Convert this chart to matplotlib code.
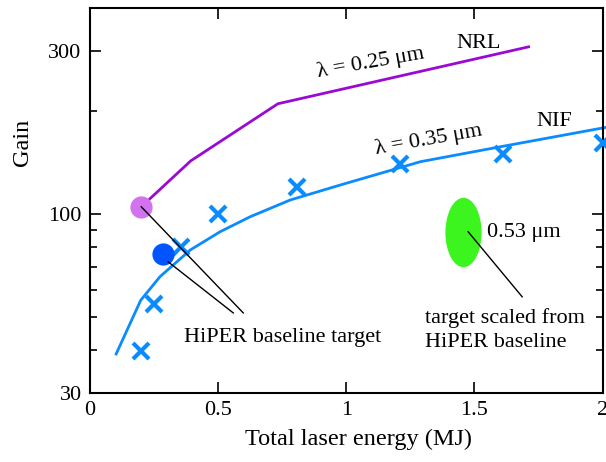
import numpy as np
import matplotlib
matplotlib.use("Agg")
import matplotlib.pyplot as plt
import matplotlib.path as mpath
from matplotlib.transforms import Affine2D

plt.rcParams['font.family'] = ['Liberation Serif', 'DejaVu Serif']

# NRL (0.25 um) curve
nrl_e = [0.2, 0.393, 0.733, 1.711]
nrl_g = [105, 143, 210, 308]

# NIF (0.35 um) curve
nif_e = [0.102, 0.198, 0.273, 0.391, 0.508, 0.625, 0.781, 0.977, 1.133, 1.289, 1.602, 2.01]
nif_g = [39.0, 56.0, 65.6, 78.5, 88.8, 98.2, 109.9, 121.6, 131.5, 142.2, 157.3, 179.0]

# NIF simulation points (crosses)
x_e = [0.2, 0.25, 0.355, 0.5, 0.807, 1.21, 1.61, 2.0]
x_g = [39.9, 54.5, 80.3, 100.0, 120.2, 140.0, 149.7, 161.0]

# HiPER baseline targets
hiper_e = [0.2, 0.285]
hiper_g = [105, 76.4]
green_e, green_g = 1.457, 88.6

fig = plt.figure(figsize=(6.06, 4.62), dpi=100)
ax = fig.add_axes([0.1485, 0.1494, 0.846, 0.8333])
ax.set_yscale('log')
ax.set_xlim(0, 2)
ax.set_ylim(30, 400)

ax.plot(nrl_e, nrl_g, color='#9a0ad2', lw=2, zorder=2)
ax.plot(nif_e, nif_g, color='#0a8cff', lw=2, zorder=2, clip_on=False)
ax.plot(x_e, x_g, ls='none', marker='x', ms=11, mew=3, color='#0a8cff', zorder=3, clip_on=False)

ax.plot(hiper_e[0], hiper_g[0], 'o', ms=16, color='#d272ee', mec='none', zorder=4)
ax.plot(hiper_e[1], hiper_g[1], 'o', ms=16, color='#0055ff', mec='none', zorder=4)

ell = mpath.Path.unit_circle().transformed(Affine2D().scale(0.52, 1.0))
ax.plot(green_e, green_g, ls='none', marker=ell, ms=50, color='#3cf51e', mec='none', zorder=4)

# annotation lines
ax.plot([0.2, 0.598], [105, 51.4], color='k', lw=1, zorder=5)
ax.plot([0.305, 0.559], [72.5, 51.4], color='k', lw=1, zorder=5)
ax.plot([1.475, 1.686], [88.8, 57.3], color='k', lw=1, zorder=5)

ax.text(0.75, 43.7, 'HiPER baseline target', fontsize=16, ha='center', va='center')
ax.text(1.305, 45.8, 'target scaled from\nHiPER baseline', fontsize=16, ha='left', va='center',
        linespacing=1.4)
ax.text(1.55, 88.6, '0.53 \u03bcm', fontsize=16, ha='left', va='center')
ax.text(1.094, 276, '\u03bb = 0.25 \u03bcm', fontsize=16, ha='center', va='center', rotation=10)
ax.text(1.516, 316, 'NRL', fontsize=16, ha='center', va='center')
ax.text(1.32, 164.5, '\u03bb = 0.35 \u03bcm', fontsize=16, ha='center', va='center', rotation=10)
ax.text(1.81, 186, 'NIF', fontsize=16, ha='center', va='center')

ax.set_xticks([0, 0.5, 1, 1.5, 2])
ax.set_xticklabels(['0', '0.5', '1', '1.5', '2'])
ax.set_yticks([30, 100, 300])
ax.set_yticklabels(['30', '100', '300'])
ax.set_yticks([40, 50, 60, 70, 80, 90, 200, 400], minor=True)
ax.yaxis.set_minor_formatter(matplotlib.ticker.NullFormatter())
ax.tick_params(which='both', direction='in', top=True, right=True, labelsize=16, width=1.2)
ax.tick_params(which='major', length=8, pad=6)
ax.tick_params(which='minor', length=5)
for s in ax.spines.values():
    s.set_linewidth(1.5)

ax.set_xlabel('Total laser energy (MJ)', fontsize=17.5)
ax.xaxis.set_label_coords(0.523, -0.092)
ax.set_ylabel('Gain', fontsize=17.5)
ax.yaxis.set_label_coords(-0.112, 0.652)

fig.savefig('out.png', dpi=100)
